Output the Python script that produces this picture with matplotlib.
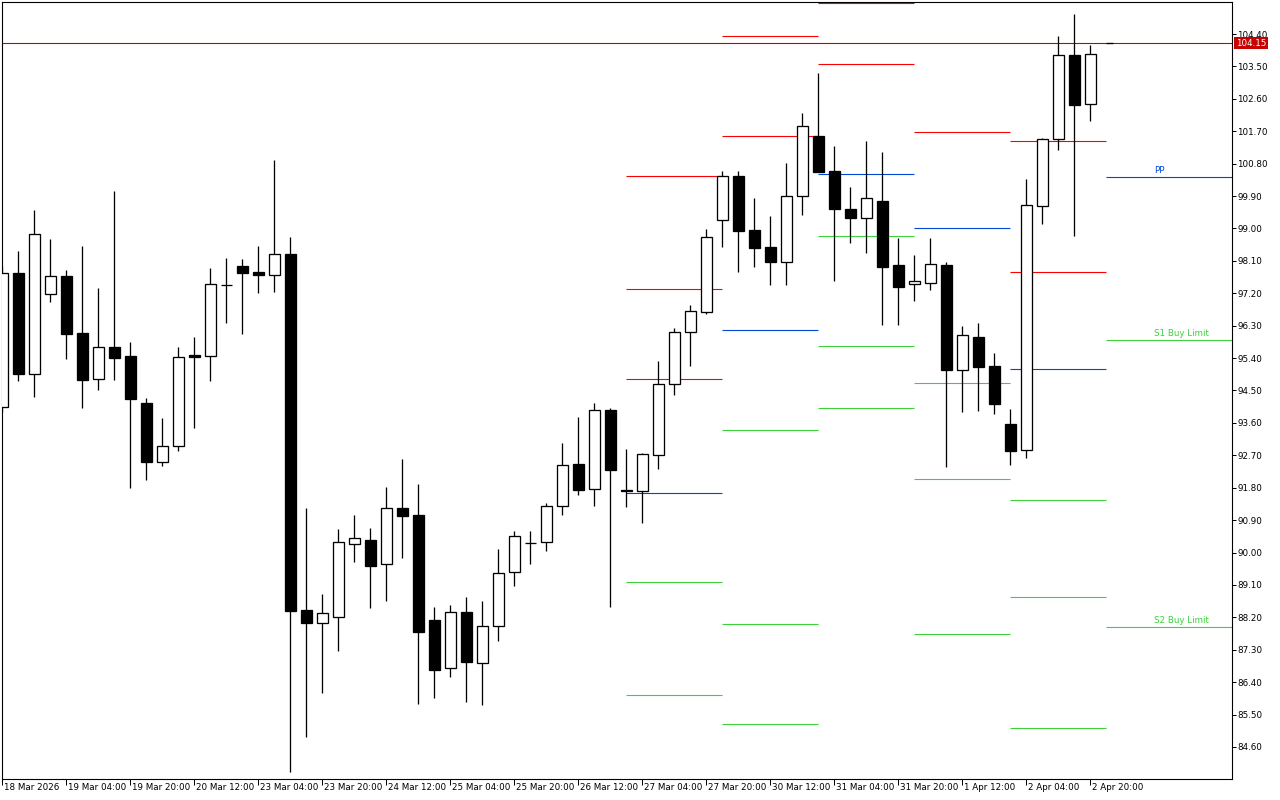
import matplotlib
matplotlib.use("Agg")
import matplotlib.pyplot as plt
from matplotlib.patches import Rectangle
import matplotlib.transforms as mtransforms
import numpy as np

# ---------------- data (4h bars, index 0 = 18 Mar 2026) ----------------
opens = [94.03, 97.75, 94.95, 97.17, 97.67, 96.10, 94.81, 95.70, 95.45, 94.14,
         92.50, 92.95, 95.48, 95.45, 97.42, 97.95, 97.78, 97.70, 98.28, 88.40,
         88.04, 88.20, 90.23, 90.34, 89.67, 91.23, 91.04, 88.12, 86.79, 88.34,
         86.92, 87.95, 89.45, 90.26, 90.28, 91.28, 92.46, 91.76, 93.95, 91.74,
         91.70, 92.70, 94.67, 96.12, 96.69, 99.23, 100.45, 98.96, 98.48, 98.08,
         99.89, 101.56, 100.59, 99.53, 99.28, 99.75, 97.98, 97.45, 97.48, 97.98,
         95.06, 95.98, 95.17, 93.56, 92.84, 99.62, 101.48, 103.81, 102.45]
highs = [97.96, 98.37, 99.50, 98.70, 97.85, 98.50, 97.35, 100.03, 95.84, 94.28,
         93.74, 95.71, 95.99, 97.90, 98.18, 98.15, 98.51, 100.90, 98.75, 91.24,
         88.85, 90.65, 91.04, 90.68, 91.82, 92.60, 91.90, 88.49, 88.54, 88.77,
         88.65, 90.10, 90.60, 90.60, 91.38, 93.04, 93.76, 94.14, 94.01, 92.88,
         92.76, 95.32, 96.24, 96.87, 98.98, 100.60, 100.60, 99.85, 99.35, 100.82,
         102.21, 103.32, 101.29, 100.15, 101.43, 101.12, 98.73, 98.26, 98.73, 98.07,
         96.29, 96.37, 95.54, 93.99, 100.37, 101.50, 104.34, 104.96, 104.09]
lows = [93.90, 94.77, 94.33, 96.97, 95.38, 94.00, 94.52, 94.80, 91.80, 92.02,
        92.41, 92.83, 93.47, 94.77, 96.38, 96.08, 97.22, 97.24, 83.91, 84.89,
        86.11, 87.27, 89.75, 88.47, 88.66, 89.86, 85.78, 85.97, 86.55, 85.86,
        85.76, 87.55, 89.08, 89.69, 90.05, 91.05, 91.61, 91.30, 88.50, 91.27,
        90.82, 92.33, 94.38, 95.19, 96.63, 98.49, 97.80, 97.94, 97.44, 97.44,
        99.38, 100.56, 97.55, 98.60, 98.31, 96.33, 96.33, 96.99, 97.30, 92.38,
        93.91, 93.94, 93.86, 92.44, 92.63, 99.13, 101.19, 98.80, 101.99]
closes = [97.75, 94.97, 98.84, 97.67, 96.08, 94.80, 95.70, 95.41, 94.27, 92.50,
          92.95, 95.42, 95.44, 97.45, 97.42, 97.77, 97.72, 98.28, 88.37, 88.05,
          88.31, 90.28, 90.40, 89.63, 91.23, 91.02, 87.80, 86.75, 88.34, 86.97,
          87.95, 89.42, 90.45, 90.26, 91.28, 92.42, 91.75, 93.95, 92.30, 91.70,
          92.73, 94.67, 96.12, 96.70, 98.75, 100.45, 98.94, 98.47, 98.08, 99.89,
          101.84, 100.58, 99.55, 99.30, 99.84, 97.94, 97.37, 97.53, 98.00, 95.08,
          96.03, 95.16, 94.13, 92.83, 99.64, 101.48, 103.81, 102.44, 103.84]

x_tick_pos = [0, 4, 8, 12, 16, 20, 24, 28, 32, 36, 40, 44, 48, 52, 56, 60, 64, 68]
x_tick_labels = ["18 Mar 2026", "19 Mar 04:00", "19 Mar 20:00", "20 Mar 12:00",
                 "23 Mar 04:00", "23 Mar 20:00", "24 Mar 12:00", "25 Mar 04:00",
                 "25 Mar 20:00", "26 Mar 12:00", "27 Mar 04:00", "27 Mar 20:00",
                 "30 Mar 12:00", "31 Mar 04:00", "31 Mar 20:00", "1 Apr 12:00",
                 "2 Apr 04:00", "2 Apr 20:00"]
y_ticks = [84.60, 85.50, 86.40, 87.30, 88.20, 89.10, 90.00, 90.90, 91.80, 92.70,
           93.60, 94.50, 95.40, 96.30, 97.20, 98.10, 99.00, 99.90, 100.80,
           101.70, 102.60, 103.50, 104.40]

current_price = 104.15

# daily pivot segments (start bar, end bar) and levels (nan = off chart)
nan = float("nan")
piv_start = [39, 45, 51, 57, 63]
piv_end = [45, 51, 57, 63, 69]
piv_R3 = [100.46, nan, nan, nan, nan]
piv_R2 = [97.32, 104.34, 105.25, nan, 101.42]
piv_R1 = [94.82, 101.56, 103.56, 101.67, 97.78]
piv_PP = [91.65, 96.17, 100.50, 99.00, 95.09]
piv_S1 = [89.18, 93.40, 98.78, 94.70, 91.45]
piv_S2 = [86.04, 88.02, 95.73, 92.03, 88.76]
piv_S3 = [nan, 85.24, 94.01, 87.73, 85.12]

# current day levels with labels
cur_start = 69
cur_levels = [100.42, 95.89, 87.92]
cur_labels = ["PP", "S1 Buy Limit", "S2 Buy Limit"]

# ---------------- style ----------------
RED = "#ff0000"
BLUE = "#0046d2"
GREEN = "#3cd23c"
PX = 0.72  # one pixel in points at dpi 100
FONT = "DejaVu Sans"
FS = 6.3

fig = plt.figure(figsize=(12.8, 8.0), dpi=100)
fig.patch.set_facecolor("white")
ax = fig.add_axes([2 / 1280, 21 / 800, 1230 / 1280, 777 / 800])
ax.set_facecolor("white")

x0 = -0.3 / 16
ax.set_xlim(x0, x0 + 1230 / 16)
ax.set_ylim(83.71, 105.289)

# pivot lines
for i in range(len(piv_start)):
    xs, xe = piv_start[i], piv_end[i]
    for lv, col in ((piv_R3[i], RED), (piv_R2[i], RED), (piv_R1[i], RED),
                    (piv_PP[i], BLUE), (piv_S1[i], GREEN), (piv_S2[i], GREEN),
                    (piv_S3[i], GREEN)):
        if not np.isnan(lv):
            ax.plot([xs, xe], [lv, lv], color=col, lw=1.1 * PX, zorder=1,
                    solid_capstyle="butt")

cur_cols = [BLUE, GREEN, GREEN]
for lv, lab, col in zip(cur_levels, cur_labels, cur_cols):
    ax.plot([cur_start, 80], [lv, lv], color=col, lw=1.1 * PX, zorder=1,
            solid_capstyle="butt")
    ax.text(cur_start + 3.0, lv + 0.06, lab, color=col, fontsize=FS,
            family=FONT, ha="left", va="bottom", zorder=5)

# current price line
ax.axhline(current_price, color="#c80000", lw=1.1 * PX, zorder=1)
ax.plot([69, 69.4], [current_price, current_price], color="black",
        lw=1.3 * PX, zorder=2, solid_capstyle="butt")

# candles
bw = 0.66
for i in range(len(opens)):
    o, h, l, c = opens[i], highs[i], lows[i], closes[i]
    ax.plot([i, i], [l, h], color="black", lw=1.3 * PX, zorder=3,
            solid_capstyle="butt")
    if abs(c - o) < 1e-9:
        ax.plot([i - bw / 2, i + bw / 2], [o, o], color="black",
                lw=1.3 * PX, zorder=4, solid_capstyle="butt")
        continue
    bull = c > o
    bottom = min(o, c)
    height = abs(c - o)
    ax.add_patch(Rectangle((i - bw / 2, bottom), bw, height,
                           facecolor="white" if bull else "black",
                           edgecolor="black", lw=1.3 * PX, zorder=4))

# axes styling
for s in ax.spines.values():
    s.set_color("black")
    s.set_linewidth(1.1 * PX)

ax.yaxis.tick_right()
ax.set_yticks(y_ticks)
ax.set_yticklabels([f"{v:.2f}" for v in y_ticks], fontsize=FS, family=FONT)
ax.tick_params(axis="y", direction="out", length=4 * PX, width=PX, pad=1,
               colors="black")

ax.set_xticks(x_tick_pos)
ax.set_xticklabels(x_tick_labels, fontsize=FS, family=FONT)
for t in ax.get_xticklabels():
    t.set_horizontalalignment("left")
ax.tick_params(axis="x", direction="out", length=6 * PX, width=PX,
               pad=-2.5 * PX, colors="black")
# shift x labels slightly right of tick
offset = mtransforms.ScaledTranslation(2 / 100, 0, fig.dpi_scale_trans)
for t in ax.get_xticklabels():
    t.set_transform(t.get_transform() + offset)

# price tag on right axis
trans = mtransforms.blended_transform_factory(ax.transAxes, ax.transData)
ax.text(1 + 4 / 1230, current_price, f"{current_price:.2f}", transform=trans,
        color="white", fontsize=FS, family=FONT, ha="left", va="center",
        bbox=dict(boxstyle="square,pad=0.18", facecolor="#c80000",
                  edgecolor="none"), zorder=10, clip_on=False)

fig.savefig("out.png", dpi=100, facecolor="white")
